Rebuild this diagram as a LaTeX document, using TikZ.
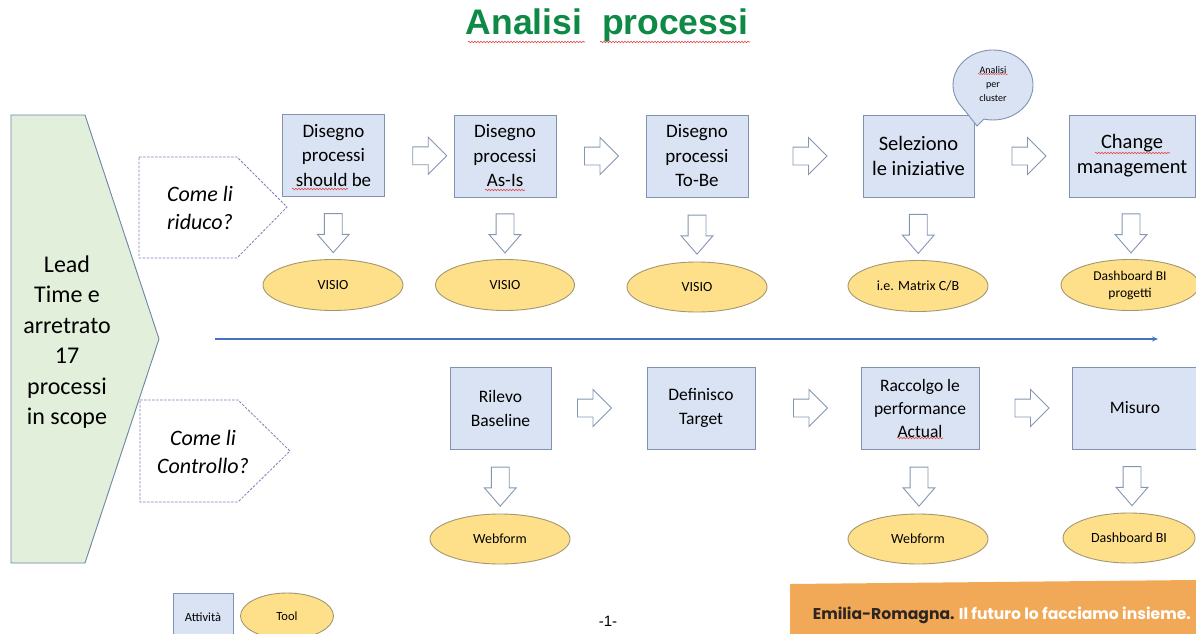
\documentclass[tikz,border=0pt]{standalone}
\usepackage{fontspec}
\setmainfont{Carlito}
\newfontfamily\titlefont{Liberation Sans}
\newfontfamily\bannerfont{Poppins}
\usetikzlibrary{shapes.geometric,shapes.arrows,calc,arrows.meta,decorations.pathmorphing}

\definecolor{boxfill}{HTML}{DAE3F3}
\definecolor{boxline}{HTML}{7F93B0}
\definecolor{toolfill}{HTML}{FFE08A}
\definecolor{toolline}{HTML}{A39670}
\definecolor{leadfill}{HTML}{E2EFDA}
\definecolor{leadline}{HTML}{6D84A6}
\definecolor{askline}{HTML}{7E7EB8}
\definecolor{arrowline}{HTML}{8497B0}
\definecolor{timeline}{HTML}{4472C4}
\definecolor{titlegreen}{HTML}{0E8A46}
\definecolor{banner}{HTML}{F1A957}
\definecolor{bannerdark}{HTML}{2B2622}
\definecolor{spell}{HTML}{E04848}

\begin{document}
\begin{tikzpicture}[x=1pt,y=-1pt,
  act/.style={draw=boxline, fill=boxfill, line width=0.9pt, align=center,
    inner sep=0pt, minimum height=82pt, font=\fontsize{17.5}{24}\selectfont},
  bigact/.style={act, font=\fontsize{19}{24.5}\selectfont},
  hugeact/.style={act, font=\fontsize{20.5}{25}\selectfont},
  tool/.style={ellipse, draw=toolline, fill=toolfill, line width=0.9pt,
    align=center, inner sep=0pt, minimum height=51pt, minimum width=140pt,
    font=\fontsize{14}{17}\selectfont},
  harrow/.style={single arrow, draw=arrowline, fill=white, line width=0.9pt,
    inner sep=8.5pt, single arrow head extend=9.5pt, minimum height=34pt},
  darrow/.style={single arrow, draw=arrowline, fill=white, line width=0.9pt,
    inner sep=8.5pt, single arrow head extend=7pt, single arrow tip angle=82,
    minimum height=39pt, shape border rotate=270},
  ask/.style={draw=askline, fill=white, line width=0.8pt, dash pattern=on 2.5pt off 1.5pt},
  asktext/.style={align=center, font=\itshape\fontsize{22}{27.5}\selectfont},
  spellmark/.style={draw=spell, line width=0.6pt, decorate,
    decoration={snake, amplitude=0.8pt, segment length=3pt}},
]
\useasboundingbox (0,0) rectangle (1196,634);
\path[clip] (0,0) rectangle (1196,634);
\fill[white] (0,0) rectangle (1196,634);

% title
\node[anchor=base, text=titlegreen, font=\titlefont\bfseries\fontsize{35.5}{40}\selectfont]
  (title) at (607,35) {Analisi\ \ processi};
\draw[spellmark] (468,42) -- (585,42);
\draw[spellmark] (600,42) -- (750,42);

% lead block
\draw[draw=leadline, fill=leadfill, line width=0.9pt]
  (11,115) -- (85,115) -- (159,339) -- (85,563) -- (11,563) -- cycle;
\node[align=center, font=\fontsize{24}{30.4}\selectfont] (lead) at (67,342)
  {Lead\\Time e\\arretrato\\17\\processi\\in scope};

% question tags
\draw[ask] (139,157) -- (237,157) -- (287,207) -- (237,258) -- (139,258) -- cycle;
\node[asktext] (ask1) at (200,208) {Come li\\riduco?};
\draw[ask] (140,400) -- (238,400) -- (290,451) -- (238,502) -- (140,502) -- cycle;
\node[asktext] (ask2) at (203,452) {Come li\\Controllo?};

% upper row: activities
\node[bigact, minimum width=102pt] (a1) at (333.5,155.5) {Disegno\\processi\\should be};
\node[bigact, minimum width=102pt] (a2) at (505,156) {Disegno\\processi\\As-Is};
\node[bigact, minimum width=102pt] (a3) at (697,156) {Disegno\\processi\\To-Be};
\node[hugeact, minimum width=111pt] (a4) at (918.5,156) {Seleziono\\le iniziative};
\node[hugeact, minimum width=126pt] (a5) at (1132,156) {Change\\management};
\draw[spellmark] (292,189) -- (348,189);
\draw[spellmark] (485,190) -- (525,190);
\draw[spellmark] (1095,153) -- (1170,153);

% upper row: tools
\node[tool] (t1) at (333,285) {VISIO};
\node[tool, minimum width=139pt] (t2) at (505,285) {VISIO};
\node[tool, minimum height=50pt] (t3) at (697,287) {VISIO};
\node[tool] (t4) at (918,286) {i.e. Matrix C/B};
\node[tool, minimum width=138pt, font=\fontsize{13.5}{17}\selectfont] (t5) at (1130,285) {Dashboard BI\\progetti};

% upper row: flow arrows
\node[harrow, xshift=6pt] (r1) at ($(a1.east)!0.5!(a2.west)$) {};
\node[harrow, xshift=-4pt] (r2) at ($(a2.east)!0.5!(a3.west)$) {};
\node[harrow] (r3) at ($(a3.east)!0.5!(a4.west)$) {};
\node[harrow, xshift=3pt] (r4) at ($(a4.east)!0.5!(a5.west)$) {};
\node[darrow] (d1) at ($(a1.south)!0.5!(t1.north)$) {};
\node[darrow] (d2) at ($(a2.south)!0.5!(t2.north)$) {};
\node[darrow] (d3) at ($(a3.south)!0.5!(t3.north)$) {};
\node[darrow] (d4) at ($(a4.south)!0.5!(t4.north)$) {};
\node[darrow] (d5) at ($(a5.south)!0.5!(t5.north)$) {};

% speech bubble
\coordinate (bc) at (993,85);
\coordinate (btip) at (977,126);
\draw[draw=boxline, fill=boxfill, line width=0.9pt]
  (bc) ++(139:40 and 35) arc[start angle=139, end angle=463, x radius=40, y radius=35]
  -- (btip) -- cycle;
\node[align=center, font=\fontsize{10}{14}\selectfont] (bubble) at (993,84)
  {Analisi\\per\\cluster};
\draw[spellmark, line width=0.5pt, decoration={snake, amplitude=0.6pt, segment length=2.4pt}]
  (978,74) -- (1008,74);

% time line
\coordinate (tl0) at (215,339);
\coordinate (tl1) at (1158,339);
\draw[timeline, line width=1.8pt, -{Stealth[length=6pt,width=5pt]}] (tl0) -- (tl1);

% lower row: activities
\node[act, minimum width=101pt] (b1) at (500.5,408) {Rilevo\\Baseline};
\node[act, minimum width=108pt] (b2) at (701,408) {Definisco\\Target};
\node[act, minimum width=118pt, font=\fontsize{17.5}{23}\selectfont] (b3) at (920,408) {Raccolgo le\\performance\\Actual};
\node[act, minimum width=126pt] (b4) at (1135,408) {Misuro};
\draw[spellmark] (897,438) -- (943,438);

% lower row: tools
\node[tool, minimum height=50pt] (w1) at (500,539) {Webform};
\node[tool, minimum height=50pt] (w2) at (918,539) {Webform};
\node[tool, minimum height=50pt, minimum width=132pt] (w3) at (1129,538) {Dashboard BI};

% lower row: flow arrows
\node[harrow, xshift=-9pt] (s1) at ($(b1.east)!0.5!(b2.west)$) {};
\node[harrow, xshift=-2pt] (s2) at ($(b2.east)!0.5!(b3.west)$) {};
\node[harrow, xshift=2pt] (s3) at ($(b3.east)!0.5!(b4.west)$) {};
\node[darrow] (e1) at ($(b1.south)!0.5!(w1.north)$) {};
\node[darrow] (e2) at ($(b3.south)!0.5!(w2.north)$) {};
\node[darrow] (e3) at ($(b4.south)!0.5!(w3.north)$) {};

% legend
\node[act, minimum width=60pt, minimum height=48pt, font=\fontsize{12.5}{13}\selectfont]
  (legact) at (203,617) {Attività};
\node[tool, minimum width=93pt, minimum height=46pt, font=\fontsize{12.5}{13}\selectfont]
  (legtool) at (287,616) {Tool};

% page number
\node[font=\titlefont\fontsize{15}{18}\selectfont] (page) at (608,621) {-1-};

% footer banner
\fill[banner] (790,584) -- (1196,580) -- (1196,634) -- (790,634) -- cycle;
\node[anchor=base east, font=\bannerfont\bfseries\fontsize{15.6}{17}\selectfont, inner sep=0pt]
  (claim) at (1191,619)
  {\textcolor{bannerdark}{Emilia-Romagna.} \textcolor{white}{Il futuro lo facciamo insieme.}};
\end{tikzpicture}
\end{document}
